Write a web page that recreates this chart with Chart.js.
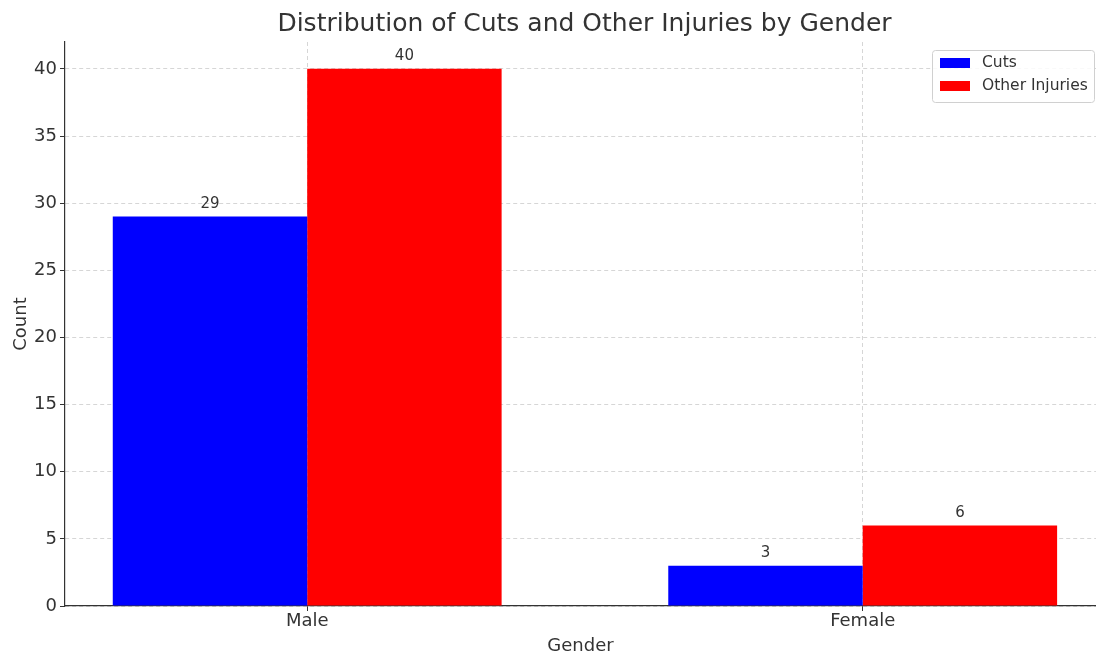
<!DOCTYPE html>
<html>
<head>
<meta charset="utf-8">
<script src="https://cdn.jsdelivr.net/npm/chart.js@4"></script>
<style>
  html, body { margin: 0; padding: 0; background: #fff; }
  #wrap { width: 1096px; height: 654px; }
</style>
</head>
<body>
<div id="wrap"><canvas id="injuryChart" width="1096" height="654"></canvas></div>
<script>
var genders = ["Male", "Female"];
var cutsCounts = [29, 3];
var otherCounts = [40, 6];
var yTickValues = [0, 5, 10, 15, 20, 25, 30, 35, 40];
var chartTitle = "Distribution of Cuts and Other Injuries by Gender";

var FONT = "'DejaVu Sans', sans-serif";
var textColor = "#333333";

// value labels above every bar
var barLabels = {
  id: "barLabels",
  afterDatasetsDraw: function (chart) {
    var ctx = chart.ctx;
    ctx.save();
    ctx.font = "15px " + FONT;
    ctx.fillStyle = textColor;
    ctx.textAlign = "center";
    ctx.textBaseline = "bottom";
    chart.data.datasets.forEach(function (ds, i) {
      chart.getDatasetMeta(i).data.forEach(function (bar, j) {
        ctx.fillText(ds.data[j].y, bar.x, bar.y - 5);
      });
    });
    ctx.restore();
  }
};

// title centred over the plot area like matplotlib does
var plotTitle = {
  id: "plotTitle",
  afterDraw: function (chart) {
    var ctx = chart.ctx;
    var area = chart.chartArea;
    ctx.save();
    ctx.font = "25px " + FONT;
    ctx.fillStyle = textColor;
    ctx.textAlign = "center";
    ctx.textBaseline = "middle";
    ctx.fillText(chartTitle, (area.left + area.right) / 2 + 4, 24);
    ctx.restore();
  }
};

// matplotlib-style legend inside the plot, upper right
var boxLegend = {
  id: "boxLegend",
  afterDraw: function (chart) {
    var ctx = chart.ctx;
    var area = chart.chartArea;
    var w = 162, h = 52;
    var x = area.right - w - 2, y = area.top + 8;
    ctx.save();
    ctx.fillStyle = "rgba(255,255,255,0.85)";
    ctx.strokeStyle = "#d0d0d0";
    ctx.lineWidth = 1;
    ctx.beginPath();
    ctx.roundRect(x + 0.5, y + 0.5, w, h, 3);
    ctx.fill();
    ctx.stroke();
    ctx.font = "15.5px " + FONT;
    ctx.textBaseline = "middle";
    chart.data.datasets.forEach(function (ds, i) {
      var rowY = y + 13 + i * 23;
      ctx.fillStyle = ds.backgroundColor;
      ctx.fillRect(x + 8, rowY - 5, 30, 10);
      ctx.fillStyle = textColor;
      ctx.fillText(ds.label, x + 50, rowY);
    });
    ctx.restore();
  }
};

function points(values) {
  return values.map(function (v, i) { return { x: i, y: v }; });
}

var gridColor = "#cccccc";

new Chart(document.getElementById("injuryChart"), {
  type: "bar",
  data: {
    datasets: [
      { label: "Cuts", data: points(cutsCounts), backgroundColor: "#0000ff" },
      { label: "Other Injuries", data: points(otherCounts), backgroundColor: "#ff0000" }
    ]
  },
  options: {
    responsive: false,
    animation: false,
    layout: { padding: { top: 42, left: 0, right: 0, bottom: 0 } },
    datasets: { bar: { categoryPercentage: 0.7, barPercentage: 1.0 } },
    plugins: {
      legend: { display: false },
      tooltip: { enabled: false },
      title: { display: false }
    },
    scales: {
      x: {
        type: "linear",
        offset: false,
        min: -0.436,
        max: 1.42,
        afterBuildTicks: function (axis) {
          axis.ticks = genders.map(function (g, i) { return { value: i }; });
        },
        afterFit: function (axis) { axis.height = 48; },
        ticks: {
          autoSkip: false,
          maxRotation: 0,
          color: textColor,
          padding: 0,
          font: { family: FONT, size: 18 },
          callback: function (v) { return genders[v]; }
        },
        grid: {
          offset: false,
          color: gridColor,
          lineWidth: 0.8,
          tickColor: textColor,
          tickLength: 5,
          tickWidth: 1
        },
        border: { display: true, color: textColor, width: 1.2, dash: [4, 3] },
        title: {
          display: true,
          text: "Gender",
          color: textColor,
          font: { family: FONT, size: 18 },
          padding: { top: 3, bottom: -3 }
        }
      },
      y: {
        min: 0,
        max: 42,
        afterBuildTicks: function (axis) {
          axis.ticks = yTickValues.map(function (v) { return { value: v }; });
        },
        afterFit: function (axis) { axis.width = 65; },
        ticks: {
          color: textColor,
          padding: 3,
          font: { family: FONT, size: 18 }
        },
        grid: {
          color: gridColor,
          lineWidth: 0.8,
          tickColor: textColor,
          tickLength: 5,
          tickWidth: 1
        },
        border: { display: true, color: textColor, width: 1.2, dash: [4, 3] },
        title: {
          display: true,
          text: "Count",
          color: textColor,
          font: { family: FONT, size: 18 },
          padding: { top: 11, bottom: 0 }
        }
      }
    }
  },
  plugins: [barLabels, plotTitle, boxLegend]
});
</script>
</body>
</html>
